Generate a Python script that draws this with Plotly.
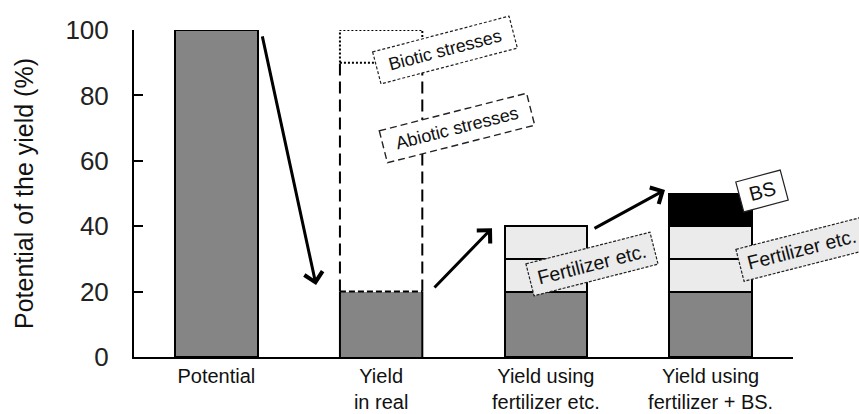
import math
import plotly.graph_objects as go

# ---------------- data ----------------
categories = ["Potential", "Yield<br>in real", "Yield using<br>fertilizer etc.", "Yield using<br>fertilizer + BS."]
yield_base = [100, 20, 20, 20]          # dark-grey part (actual yield)
fertilizer_a = [None, None, 10, 10]     # first fertilizer gain
fertilizer_b = [None, None, 10, 10]     # second fertilizer gain
bs_gain = [None, None, None, 10]        # gain from BS
abiotic_loss = [None, 70, None, None]   # loss by abiotic stresses
biotic_loss = [None, 10, None, None]    # loss by biotic stresses
y_ticks = [0, 20, 40, 60, 80, 100]

# ---------------- layout constants ----------------
W, H = 859, 414
ML, MR, MT, MB = 134, 66, 30, 57
PW = W - ML - MR
PH = H - MT - MB
BAR_W = 0.5
GRAY = "#858585"
LIGHT = "#ebebeb"
FONT = "Liberation Sans, Arial, sans-serif"

x = list(range(len(categories)))

fig = go.Figure()
fig.add_bar(x=x, y=yield_base, width=BAR_W,
            marker=dict(color=GRAY,
                        line=dict(color="black",
                                  width=[0 if a is not None else 2 for a in abiotic_loss])))
fig.add_bar(x=x, y=fertilizer_a, width=BAR_W,
            marker=dict(color=LIGHT, line=dict(color="black", width=2)))
fig.add_bar(x=x, y=fertilizer_b, width=BAR_W,
            marker=dict(color=LIGHT, line=dict(color="black", width=2)))
fig.add_bar(x=x, y=bs_gain, width=BAR_W,
            marker=dict(color="black", line=dict(color="black", width=2)))
# stress losses: transparent bars, outlines drawn as dashed shapes below
fig.add_bar(x=x, y=abiotic_loss, width=BAR_W,
            marker=dict(color="rgba(0,0,0,0)", line=dict(width=0)))
fig.add_bar(x=x, y=biotic_loss, width=BAR_W,
            marker=dict(color="rgba(0,0,0,0)", line=dict(width=0)))

shapes = []
for i, (a, b) in enumerate(zip(abiotic_loss, biotic_loss)):
    if a is None:
        continue
    x0, x1 = i - BAR_W / 2, i + BAR_W / 2
    g = yield_base[i]
    ta = g + a
    tb = ta + (b or 0)
    solid = dict(color="black", width=2)
    dashed = dict(color="black", width=2, dash="12px,6px")
    fine = dict(color="black", width=2, dash="6px,3px")
    dotted = dict(color="black", width=2, dash="2px,2px")
    # actual-yield part: solid sides, dashed top
    for xx in (x0, x1):
        shapes.append(dict(type="line", xref="x", yref="y", x0=xx, x1=xx, y0=0, y1=g, line=solid))
    shapes.append(dict(type="line", xref="x", yref="y", x0=x0, x1=x1, y0=g, y1=g, line=fine))
    # abiotic stresses: dashed sides
    for xx in (x0, x1):
        shapes.append(dict(type="line", xref="x", yref="y", x0=xx, x1=xx, y0=g, y1=ta, line=dashed))
    # biotic stresses: dotted box
    shapes.append(dict(type="rect", xref="x", yref="y", x0=x0, x1=x1, y0=ta, y1=tb, line=dotted))


def to_paper(px, py):
    return (px - ML) / PW, (MT + PH - py) / PH


# label boxes (pixel centre, size, angle)
labels = [
    dict(text="Biotic stresses", c=(445, 50), w=141, h=33, a=14.7, fill="white", dash="3px,2px", lw=1.2, fs=18),
    dict(text="Abiotic stresses", c=(457, 128), w=152, h=33, a=14.3, fill="white", dash="7px,4px", lw=1.4, fs=18),
    dict(text="Fertilizer etc.", c=(592, 264), w=128, h=33, a=14.3, fill=LIGHT, dash="3px,1.5px", lw=1.2, fs=19.5),
    dict(text="Fertilizer etc.", c=(802, 249.5), w=128, h=33, a=14.3, fill=LIGHT, dash="3px,1.5px", lw=1.2, fs=19.5),
    dict(text="BS", c=(762, 191), w=46, h=31, a=15, fill="white", dash="solid", lw=1.2, fs=20),
]

annotations = []
for lb in labels:
    th = math.radians(lb["a"])
    ux, uy = math.cos(th), -math.sin(th)
    vx, vy = math.sin(th), math.cos(th)
    cx, cy = lb["c"]
    hw, hh = lb["w"] / 2, lb["h"] / 2
    pts = []
    for sw, sh in ((-1, -1), (1, -1), (1, 1), (-1, 1)):
        px = cx + sw * hw * ux + sh * hh * vx
        py = cy + sw * hw * uy + sh * hh * vy
        pts.append(to_paper(px, py))
    path = "M " + " L ".join(f"{p[0]:.5f},{p[1]:.5f}" for p in pts) + " Z"
    shapes.append(dict(type="path", xref="paper", yref="paper", path=path,
                       fillcolor=lb["fill"], line=dict(color="#222", width=lb["lw"], dash=lb["dash"]),
                       layer="above"))
    pxp, pyp = to_paper(cx, cy)
    annotations.append(dict(x=pxp, y=pyp, xref="paper", yref="paper", text=lb["text"],
                            showarrow=False, textangle=-lb["a"], xanchor="center", yanchor="middle",
                            font=dict(family=FONT, size=lb["fs"], color="#111")))

# arrows (tail -> tip) in data coordinates
arrows = [
    ((0.277, 98.5), (0.605, 22.0)),
    ((1.315, 20.8), (1.673, 39.4)),
    ((2.286, 39.1), (2.723, 51.1)),
]
for (tx, ty), (hx, hy) in arrows:
    annotations.append(dict(x=hx, y=hy, ax=tx, ay=ty, xref="x", yref="y", axref="x", ayref="y",
                            showarrow=True, arrowhead=4, arrowsize=1.2, arrowwidth=3,
                            arrowcolor="black", standoff=0, startstandoff=0, text=""))

fig.update_layout(
    width=W, height=H,
    margin=dict(l=ML, r=MR, t=MT, b=MB, autoexpand=False),
    paper_bgcolor="white", plot_bgcolor="white",
    barmode="stack", showlegend=False, bargap=0.5,
    font=dict(family=FONT, color="black"),
    shapes=shapes, annotations=annotations,
    xaxis=dict(range=[-0.5, len(categories) - 0.5], tickvals=x, ticktext=categories,
               showline=True, linecolor="black", linewidth=2, ticks="", showgrid=False,
               zeroline=False, tickfont=dict(size=20, family=FONT, color="#111"),
               ticklabelstandoff=0, automargin=False),
    yaxis=dict(range=[0, 100], tickvals=y_ticks, showline=True, linecolor="black", linewidth=2,
               ticks="inside", ticklen=9, tickwidth=2, tickcolor="black", showgrid=False,
               zeroline=False, tickfont=dict(size=26, family=FONT, color="#222"),
               ticklabelstandoff=18, automargin=False,
               title=dict(text="Potential of the yield (%)", font=dict(size=25, family=FONT, color="#111"),
                          standoff=25)),
)

fig.write_html("out.html", config={"displayModeBar": False},
               post_script="document.body.style.margin='0';document.body.style.overflow='hidden';")
